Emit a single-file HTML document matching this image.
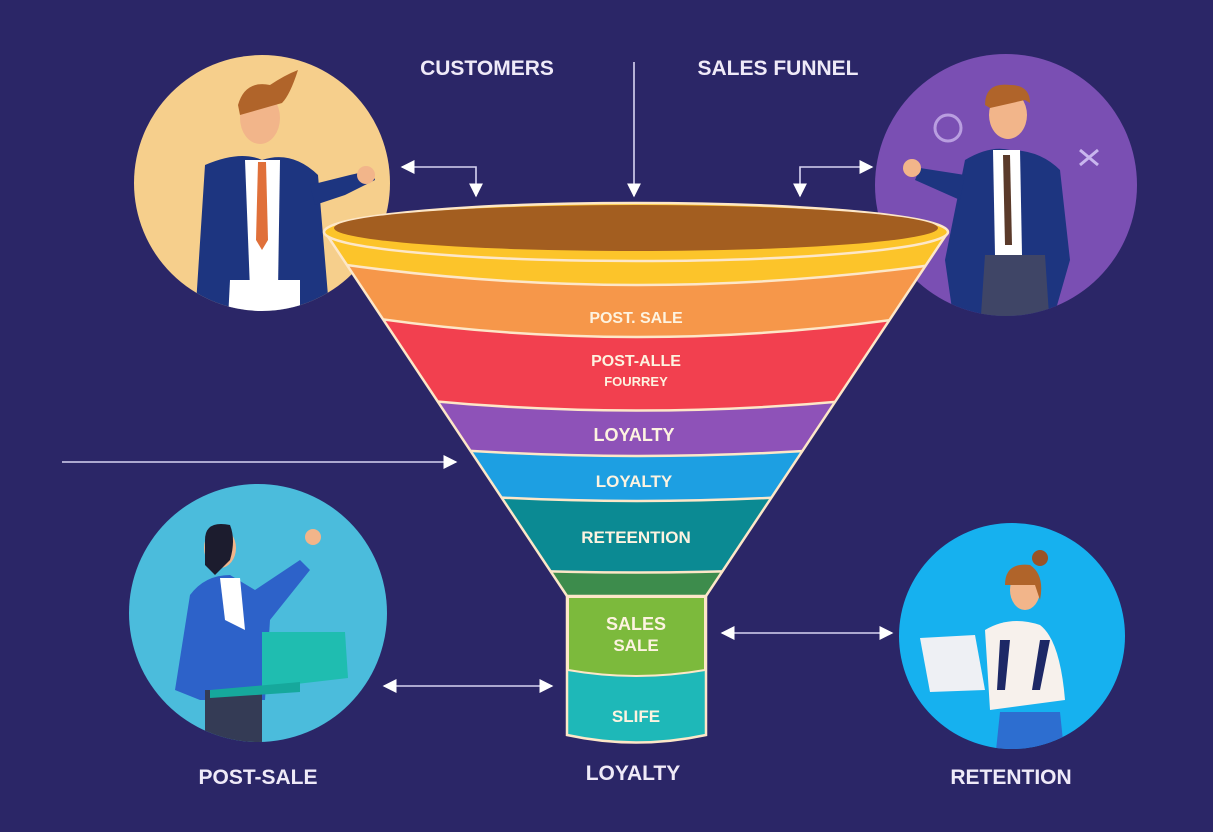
<!DOCTYPE html>
<html><head><meta charset="utf-8"><style>
html,body{margin:0;padding:0;background:#2b2667;}
svg{display:block}
text{font-family:"Liberation Sans",Arial,sans-serif;font-weight:bold;}
</style></head><body>
<svg width="1213" height="832" viewBox="0 0 1213 832" xmlns="http://www.w3.org/2000/svg">
<defs>
<clipPath id="cone"><path d="M325 232 L948 232 L706 596 L567 596 Z"/></clipPath>
<clipPath id="c1"><circle cx="262" cy="183" r="128"/></clipPath>
<clipPath id="c2"><circle cx="1006" cy="185" r="131"/></clipPath>
<clipPath id="c3"><circle cx="258" cy="613" r="129"/></clipPath>
<clipPath id="c4"><circle cx="1012" cy="636" r="113"/></clipPath>
<marker id="ah" viewBox="0 0 10 10" refX="9" refY="5" markerWidth="14" markerHeight="14" markerUnits="userSpaceOnUse" orient="auto-start-reverse"><path d="M0 0 L10 5 L0 10 Z" fill="#fff"/></marker>
</defs>
<rect width="1213" height="832" fill="#2b2667"/>

<!-- circles -->
<circle cx="262" cy="183" r="128" fill="#f6cf8c"/>
<g clip-path="url(#c1)">
 <path d="M205 165 Q240 150 262 160 Q292 150 318 175 L330 320 L195 320 Z" fill="#1d3580"/>
 <path d="M245 160 L280 160 L278 290 L250 290 Z" fill="#fff"/>
 <path d="M258 162 L266 162 L268 240 L262 250 L256 240 Z" fill="#e0703a"/>
 <path d="M230 280 L300 280 L300 320 L228 320 Z" fill="#fff"/>
 <path d="M310 185 L350 175 L372 170 L375 180 L345 195 L315 205 Z" fill="#1d3580"/>
 <circle cx="366" cy="175" r="9" fill="#f2b58a"/>
 <ellipse cx="260" cy="118" rx="20" ry="26" fill="#f2b58a"/>
 <path d="M238 105 Q245 80 270 85 Q285 75 298 70 Q290 95 282 103 L240 115 Z" fill="#b0642a"/>
</g>
<circle cx="1006" cy="185" r="131" fill="#7a4fb3"/>
<g clip-path="url(#c2)">
 <path d="M965 160 Q990 145 1010 150 Q1040 150 1060 170 L1070 260 L1050 330 L955 330 L945 260 Z" fill="#1d3580"/>
 <path d="M993 150 L1020 150 L1022 255 L995 255 Z" fill="#fff"/>
 <path d="M1003 155 L1010 155 L1012 245 L1005 245 Z" fill="#5a3a2a"/>
 <path d="M985 255 L1045 255 L1050 330 L980 330 Z" fill="#3f4566"/>
 <path d="M965 175 L920 168 L915 180 L960 200 Z" fill="#1d3580"/>
 <circle cx="912" cy="168" r="9" fill="#f2b58a"/>
 <ellipse cx="1008" cy="115" rx="19" ry="24" fill="#f2b58a"/>
 <path d="M985 105 Q985 82 1010 85 Q1030 85 1030 103 L1025 100 L990 108 Z" fill="#b0642a"/>
 <circle cx="948" cy="128" r="13" fill="none" stroke="#b99ee0" stroke-width="3"/>
 <path d="M1080 150 L1098 165 M1098 150 L1080 165" stroke="#c9b6ee" stroke-width="3"/>
</g>
<circle cx="258" cy="613" r="129" fill="#4bbcdc"/>
<g clip-path="url(#c3)">
 <path d="M190 595 Q205 575 230 575 L255 590 L300 560 L310 570 L270 620 L265 700 L200 700 L175 690 Z" fill="#2d62c9"/>
 <path d="M220 578 L240 578 L245 630 L225 620 Z" fill="#fff"/>
 <path d="M205 690 L262 690 L262 745 L205 745 Z" fill="#343b55"/>
 <path d="M262 632 L345 632 L348 678 L262 688 Z" fill="#1fbdb0"/>
 <path d="M210 690 L300 682 L300 692 L210 698 Z" fill="#16a89c"/>
 <ellipse cx="220" cy="548" rx="16" ry="20" fill="#f2b58a"/>
 <path d="M205 540 Q205 520 230 525 Q236 540 230 560 L215 575 L205 565 Z" fill="#1c1c2e"/>
 <circle cx="313" cy="537" r="8" fill="#f2b58a"/>
</g>
<circle cx="1012" cy="636" r="113" fill="#16b1ef"/>
<g clip-path="url(#c4)">
 <path d="M985 630 Q1010 615 1040 625 Q1060 640 1065 700 L990 710 Z" fill="#f7f1ec"/>
 <path d="M1000 640 L1010 640 L1005 690 L997 690 Z M1040 640 L1050 640 L1040 690 L1032 690 Z" fill="#1d2866"/>
 <path d="M1000 712 L1060 712 L1065 760 L995 760 Z" fill="#2d6ed0"/>
 <path d="M920 638 L975 635 L985 690 L930 692 Z" fill="#eef0f4"/>
 <ellipse cx="1025" cy="590" rx="15" ry="20" fill="#f2b58a"/>
 <path d="M1005 585 Q1005 562 1030 565 Q1045 575 1040 600 L1035 585 Z" fill="#b0642a"/>
 <circle cx="1040" cy="558" r="8" fill="#9a5325"/>
</g>

<!-- funnel cone bands -->
<g clip-path="url(#cone)">
 <rect x="300" y="200" width="680" height="420" fill="#fcc42a"/>
 <path d="M300 258 Q636 312 980 258 L980 620 L300 620 Z" fill="#f6974a" stroke="#fde7c8" stroke-width="2.5"/>
 <path d="M300 306 Q636 368 980 306 L980 620 L300 620 Z" fill="#f2404f" stroke="#fde7c8" stroke-width="2.5"/>
 <path d="M300 385 Q636 436 980 385 L980 620 L300 620 Z" fill="#8e52b8" stroke="#fde7c8" stroke-width="2.5"/>
 <path d="M300 435 Q636 477 980 435 L980 620 L300 620 Z" fill="#1d9fe2" stroke="#fde7c8" stroke-width="2.5"/>
 <path d="M300 480 Q636 522 980 480 L980 620 L300 620 Z" fill="#0b8a93" stroke="#fde7c8" stroke-width="2.5"/>
 <path d="M300 555 Q636 590 980 555 L980 620 L300 620 Z" fill="#3d8c4c" stroke="#fde7c8" stroke-width="2.5"/>
</g>
<path d="M325 232 L567 596 M948 232 L706 596" stroke="#fde7c8" stroke-width="2.5"/>
<!-- neck -->
<path d="M567 596 L706 596 L706 735 Q636 750 567 735 Z" fill="#1eb8b8" stroke="#fde7c8" stroke-width="2.5"/>
<path d="M568 597 L705 597 L705 670 Q636 682 568 670 Z" fill="#7cba3c" stroke="#fde7c8" stroke-width="2"/>
<!-- rim -->
<ellipse cx="636" cy="232" rx="312" ry="29" fill="#fcc42a" stroke="#fde7c8" stroke-width="2.5"/>
<ellipse cx="636" cy="228" rx="302" ry="23" fill="#a35e20"/>

<!-- funnel labels -->
<g fill="#fdf3e0" text-anchor="middle">
<text x="636" y="323" font-size="16">POST. SALE</text>
<text x="636" y="366" font-size="16">POST-ALLE</text>
<text x="636" y="386" font-size="13">FOURREY</text>
<text x="634" y="441" font-size="18">LOYALTY</text>
<text x="634" y="487" font-size="17">LOYALTY</text>
<text x="636" y="543" font-size="17">RETEENTION</text>
<text x="636" y="630" font-size="18">SALES</text>
<text x="636" y="651" font-size="17">SALE</text>
<text x="636" y="722" font-size="17">SLIFE</text>
</g>

<!-- arrows -->
<g stroke="#d8d4f2" stroke-width="1.6" fill="none">
<path d="M476 196 L476 167 L402 167" marker-start="url(#ah)" marker-end="url(#ah)"/>
<path d="M634 62 L634 196" marker-end="url(#ah)"/>
<path d="M800 196 L800 167 L872 167" marker-start="url(#ah)" marker-end="url(#ah)"/>
<path d="M62 462 L456 462" marker-end="url(#ah)"/>
<path d="M384 686 L552 686" marker-start="url(#ah)" marker-end="url(#ah)"/>
<path d="M722 633 L892 633" marker-start="url(#ah)" marker-end="url(#ah)"/>
</g>

<!-- outer labels -->
<g fill="#efeaf8" text-anchor="middle" font-size="21">
<text x="487" y="75">CUSTOMERS</text>
<text x="778" y="75">SALES FUNNEL</text>
<text x="258" y="784">POST-SALE</text>
<text x="633" y="780">LOYALTY</text>
<text x="1011" y="784">RETENTION</text>
</g>
</svg>
</body></html>
